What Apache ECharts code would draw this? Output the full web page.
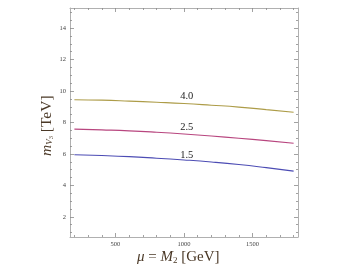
<!DOCTYPE html>
<html>
<head>
<meta charset="utf-8">
<script src="https://cdn.jsdelivr.net/npm/echarts@6/dist/echarts.min.js"></script>
<style>html,body{margin:0;padding:0;background:#fff;}#c{width:356px;height:267px;}</style>
</head>
<body>
<div id="c"></div>
<script>
var xValues = [200, 400, 600, 800, 1000, 1200, 1400, 1600, 1800];
var curve40 = [9.45, 9.42, 9.36, 9.29, 9.21, 9.10, 8.98, 8.82, 8.65];
var curve25 = [7.58, 7.53, 7.47, 7.38, 7.27, 7.14, 7.00, 6.85, 6.68];
var curve15 = [5.95, 5.90, 5.83, 5.73, 5.62, 5.49, 5.33, 5.13, 4.91];
var curveNames = ['4.0', '2.5', '1.5'];
var labelX = [1020, 1020, 1020];
var labelY = [9.66, 7.69, 5.89];
var xMajor = [500, 1000, 1500];
var xMinor = [200, 300, 400, 600, 700, 800, 900, 1100, 1200, 1300, 1400, 1600, 1700, 1800];
var yMajor = [2, 4, 6, 8, 10, 12, 14];
var yMinor = [1, 1.5, 2.5, 3, 3.5, 4.5, 5, 5.5, 6.5, 7, 7.5, 8.5, 9, 9.5, 10.5, 11, 11.5, 12.5, 13, 13.5, 14.5, 15];
var colors = ['#ad9c48', '#b8467f', '#4c4cb4'];

var XMIN = 168, XMAX = 1832, YMIN = 0.72, YMAX = 15.28;
var frame = '#b0b0b0';
var tickC = '#8a8a8a';
var serif = 'Liberation Serif, DejaVu Serif, serif';

function plain(v) { return String(v); }

function xa(pos, ticks, len, labels, showLine) {
  return {
    type: 'value', position: pos, min: XMIN, max: XMAX,
    axisLine: {show: showLine, onZero: false, lineStyle: {color: frame, width: 1}},
    axisTick: {show: true, inside: true, length: len, customValues: ticks, lineStyle: {color: tickC, width: 0.8}},
    axisLabel: labels ? {show: true, customValues: ticks, formatter: plain, fontFamily: serif, fontSize: 6.5, color: '#444', margin: 4} : {show: false},
    splitLine: {show: false}
  };
}
function ya(pos, ticks, len, labels, showLine) {
  return {
    type: 'value', position: pos, min: YMIN, max: YMAX,
    axisLine: {show: showLine, onZero: false, lineStyle: {color: frame, width: 1}},
    axisTick: {show: true, inside: true, length: len, customValues: ticks, lineStyle: {color: tickC, width: 0.8}},
    axisLabel: labels ? {show: true, customValues: ticks, formatter: plain, fontFamily: serif, fontSize: 6.5, color: '#444', margin: 4} : {show: false},
    splitLine: {show: false}
  };
}

var curves = [curve40, curve25, curve15];
var series = curves.map(function (c, i) {
  return {
    type: 'line', xAxisIndex: 0, yAxisIndex: 0, smooth: true, symbol: 'none',
    data: xValues.map(function (x, j) { return [x, c[j]]; }),
    lineStyle: {color: colors[i], width: 1.1},
    itemStyle: {color: colors[i]},
    markPoint: {
      symbol: 'circle', symbolSize: 0, silent: true,
      data: [{coord: [labelX[i], labelY[i]], value: curveNames[i]}],
      label: {show: true, position: 'inside', formatter: curveNames[i], fontFamily: serif, fontSize: 10.5, color: '#222'}
    }
  };
});

var chart = echarts.init(document.getElementById('c'), null, {renderer: 'canvas'});
chart.setOption({
  animation: false,
  backgroundColor: '#fff',
  grid: {left: 70, right: 58, top: 8, bottom: 30, containLabel: false},
  xAxis: [
    xa('bottom', xMajor, 4, true, true),
    xa('bottom', xMinor, 2, false, false),
    xa('top', xMajor, 4, false, true),
    xa('top', xMinor, 2, false, false)
  ],
  yAxis: [
    ya('left', yMajor, 4, true, true),
    ya('left', yMinor, 2, false, false),
    ya('right', yMajor, 4, false, true),
    ya('right', yMinor, 2, false, false)
  ],
  series: series,
  graphic: [
    {
      type: 'text', left: 137, top: 250,
      style: {
        text: '{i|μ} = {i|M}{s|2} [GeV]',
        fontFamily: serif, fontSize: 15, fill: '#4a3826',
        rich: {
          i: {fontFamily: serif, fontStyle: 'italic', fontSize: 15, fill: '#4a3826'},
          s: {fontFamily: serif, fontSize: 9, fill: '#4a3826', verticalAlign: 'bottom', padding: [6, 0, 0, 0]}
        }
      }
    },
    {
      type: 'text', x: 38, y: 156, rotation: Math.PI / 2,
      style: {
        text: '{i|m}{s|V}{ss|3} [TeV]',
        fontFamily: serif, fontSize: 15.5, fill: '#4a3826',
        rich: {
          i: {fontFamily: serif, fontStyle: 'italic', fontSize: 15.5, fill: '#4a3826'},
          s: {fontFamily: serif, fontStyle: 'italic', fontSize: 9, fill: '#4a3826', padding: [6, 0, 0, 0]},
          ss: {fontFamily: serif, fontSize: 6.5, fill: '#4a3826', padding: [10, 0, 0, 0]}
        }
      }
    }
  ]
});
</script>
</body>
</html>
